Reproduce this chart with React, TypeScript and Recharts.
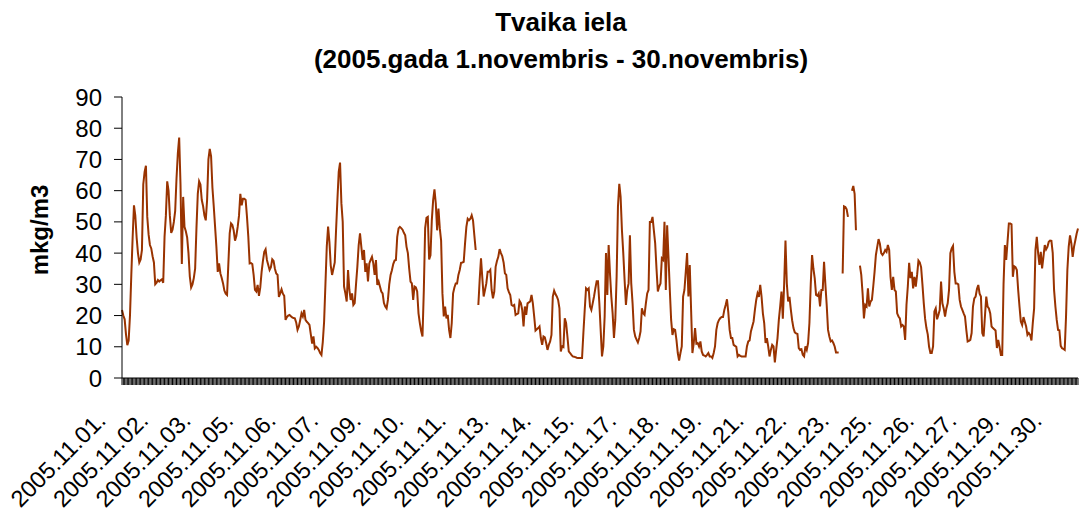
import React from 'react';
import { LineChart, Line, XAxis, YAxis } from 'recharts';

// hourly concentrations, one row of 24 values per day (null = no measurement)
const days = [
  '2005.11.01.', '2005.11.02.', '2005.11.03.', '2005.11.04.', '2005.11.05.', '2005.11.06.',
  '2005.11.07.', '2005.11.08.', '2005.11.09.', '2005.11.10.', '2005.11.11.', '2005.11.12.',
  '2005.11.13.', '2005.11.14.', '2005.11.15.', '2005.11.16.', '2005.11.17.', '2005.11.18.',
  '2005.11.19.', '2005.11.20.', '2005.11.21.', '2005.11.22.', '2005.11.23.', '2005.11.24.',
  '2005.11.25.', '2005.11.26.', '2005.11.27.', '2005.11.28.', '2005.11.29.', '2005.11.30.',
];

const hourly: (number | null)[][] = [
  [21.8, 20, 18.8, 14, 10.5, 12, 20, 33, 45, 55.3, 52, 45, 40, 37, 38, 41, 62, 66, 68, 51.6, 46, 42.6, 41.5, 39],
  [37, 30, 30.5, 31.4, 30.9, 31.3, 31.6, 30.5, 45.2, 52, 63, 60, 52, 46.5, 47.5, 50, 53.5, 64, 72, 77, 62, 36.5, 58, 48.4],
  [47, 45, 40, 32.5, 29, 30, 32, 35, 48, 59, 63, 62, 57, 55, 52, 50.5, 57, 70, 73.4, 71, 61, 55, 48.5, 42],
  [34, 36.7, 33.5, 32, 30.3, 28, 27, 26.6, 36.7, 46.3, 49.5, 49, 47.3, 44, 45.5, 48.4, 52, 59, 55.3, 57.4, 57.4, 57, 51.6, 45.2],
  [36.7, 36.8, 36.5, 33, 28.2, 27.7, 29.8, 26.3, 29, 34, 37.5, 40.4, 41.2, 37.8, 36.2, 34.6, 35.5, 38, 37.5, 35, 33.5, 33, 26, 27.1],
  [28.4, 27, 26.3, 18.6, 19.5, 20, 20.2, 19.8, 19.4, 19.2, 19.1, 17.8, 15.4, 16.5, 18.5, 20.7, 19.7, 21.8, 18.6, 18, 17.6, 17, 14, 11],
  [13.3, 9.5, 10, 9.6, 9, 8, 7.4, 11.5, 18, 30, 42, 48.5, 43.5, 36, 33, 35, 37, 47.5, 57, 66, 69, 56, 50, 29.3],
  [27.1, 24.5, 34.6, 28.2, 25, 27.1, 23.4, 24, 30, 35.6, 42.5, 46.3, 42, 37.8, 41, 34, 36.7, 30.9, 36.7, 37.8, 38.8, 36.7, 33, 37.8],
  [29.8, 30.9, 29.3, 27.7, 27.1, 24, 22.9, 22.3, 25, 30, 33, 34.5, 36.5, 37.6, 37.8, 45.2, 47.9, 48.4, 48, 47.5, 46.5, 45.7, 42, 40],
  [35, 30.9, 30.3, 25, 29.3, 29, 27.7, 20.7, 17.6, 15, 13.3, 28.2, 48, 51.3, 51.6, 38, 39.3, 50.5, 56.9, 60.4, 55.9, 47.3, 54.3, 48],
  [44, 27.1, 19.7, 22.9, 19.1, 20.2, 15.4, 12.8, 17.6, 27.1, 29, 30.3, 30.3, 33, 34.6, 36.9, 37, 37.2, 43.1, 48.4, 51, 50.5, 51, 52.1],
  [50.5, 45.7, 41, null, 23.4, 31.4, 38.3, 32, 26.1, 28.2, 30.3, 34, 34, 34.6, 28.2, 25.5, 27.7, 35.6, 37.5, 38.8, 41.3, 40, 39, 37],
  [33.5, 33, 28.7, 27.5, 26.6, 23.4, 23.1, 23.4, 20.2, 20.5, 20.7, 24.7, 24, 21.8, 16.5, 22.9, 20.2, 23.9, 24.2, 24.5, 26.6, 23.9, 19.7, 15.2],
  [15.6, 16, 16.5, 12.8, 10.6, 13.3, 13, 11.2, 9, 10.6, 11.7, 13.8, 26.1, 28, 26.9, 26.1, 25, 22.3, 8.5, 10.1, 9.9, 19.1, 17.6, 13.3],
  [8.5, 8, 7.4, 6.9, 6.8, 6.7, 6.5, 6.4, 6.4, 6.4, 6.4, 14.4, 21.8, 28.7, 28.2, 28.7, 22.9, 21.8, 23.9, 26.1, 28.7, 31, 31, 24],
  [15.4, 6.9, 10.1, 19.7, 40, 26.6, 42.6, 33.5, 26.1, 20.7, 12.8, 18.6, 32.4, 54.8, 62.2, 58, 47.3, 40, 31.4, 23.4, 28.2, 30.3, 45.7, 30.3],
  [23.9, 15.4, 13.3, 12.3, 11.4, 12.8, 14.9, 22.3, 20.7, 20.2, 23.9, 27.1, 28.2, 50, 50, 51.6, 47.3, 43.1, 35, 27.7, 29.3, 30.3, 38.3, 37.8],
  [50, 28.2, 48.9, 38.8, 28.2, 18.6, 13.8, 15.6, 15.4, 12.2, 8, 5.6, 8, 10.1, 26.1, 28.2, 34, 40, 26.1, 36.2, 22, 8, 11.2, 16],
  [11, 11.2, 10.1, 11.7, 8.5, 7.4, 7.2, 6.9, 7.4, 8, 6.9, 6.9, 6.4, 8, 10.1, 15.4, 17.6, 18.6, 19.2, 19.5, 19.5, 21.8, 23.4, 25.2],
  [21, 15.4, 12.8, 12.8, 10.6, 10.3, 10, 6.9, 7.4, 7.1, 6.9, 6.9, 6.9, 6.9, 10.1, 11.7, 12, 14.9, 16.5, 18.1, 21.8, 25, 27.1, 26],
  [29.8, 26.1, 20.7, 17.6, 11.2, 12.8, 10.1, 6.9, 9, 10.6, 10.1, 5, 9, 12.8, 18.6, 22.9, 27.7, 19, 30, 44, 30.3, 24.5, 26, 22],
  [18.5, 16, 14.6, 14.3, 14.1, 9.6, 9, 9.2, 7.4, 6.9, 10.1, 9, 11.2, 17.6, 30, 39.4, 35, 31.9, 26.6, 26.3, 27.1, 22.9, 28.2, 28.2],
  [37.2, 30, 23.4, 15.4, 13.3, 11.7, 12, 11.2, 10.1, 8.2, 8.2, 8.2, null, null, 33.5, 55, 54.8, 54, 51.6, null, null, 60, 61.5, 59],
  [47.3, null, null, 36, 33, 27, 19.1, 23.4, 22.9, 28.7, 22.9, 24.5, 25, 29.3, 34, 39.4, 42, 44.5, 43, 40, 39.4, 40, 41, 40.4],
  [42.6, 41, 32.4, 28.2, 32.4, 28.2, 27.7, 20.7, 19.7, 19.1, 16.5, 17, 16.5, 12.2, 23.4, 29.3, 36.9, 32, 34, 28.7, 32.4, 29.3, 33, 37.6],
  [37, 35.5, 30, 24, 19, 16, 14, 10, 8, 8, 10.1, 21.3, 22.3, 18.8, 20.2, 21.8, 30.9, 23.9, 22.3, 19.7, 22.3, 23.9, 28.2, 40],
  [41.5, 42.3, 34, 30.3, 30.3, 30, 25, 22.9, 21.8, 20.7, 19.7, 15.4, 11.7, 11.9, 12.2, 14.4, 22.9, 25.5, 26.1, 28.5, 29.8, 27, 26.1, 14.4],
  [13.3, 19.7, 26.1, 22.9, 22.3, 20.7, 16.5, 16, 15.6, 15.2, 9.6, 12.2, 10, 7.4, 7.4, 30, 42.6, 37.8, 43.6, 49.5, 49.5, 49.2, 32.4, 35.8],
  [35.5, 34.6, 28.2, 22.9, 18.1, 17, 19.5, 18, 16.5, 13.8, 14.4, 13.8, 12, 17.6, 22.3, 41, 45.2, 40, 36.2, 40.4, 35.1, 38.8, 42.6, 41.2],
  [42, 43.6, 44, 43.9, 40, 28.2, 22.9, 18.6, 15.4, 15.3, 10.3, 9.5, 9.3, 9, 19.7, 34.6, 42, 45.7, 43.1, 38.8, 42, 44.1, 46.3, 47.9],
];

const yTicks = [0, 10, 20, 30, 40, 50, 60, 70, 80, 90];
const LABEL_STEP = 32; // a date label on every 32nd hour

const FONT = '"Liberation Sans", Arial, sans-serif';
const LINE_COLOR = '#993300';

const rows = days.flatMap((day, d) =>
  hourly[d].map((value, h) => ({ slot: d * 24 + h, day, value })),
);

const HourTick = ({ x, y, payload }: any) => {
  const slot = Number(payload.value);
  const lx = x - 15;
  const ly = y + 44;
  return (
    <g>
      <line x1={x} y1={y} x2={x} y2={y + 7} stroke="#000" strokeWidth={1} />
      {slot % LABEL_STEP === 0 && (
        <text
          x={lx}
          y={ly}
          textAnchor="end"
          transform={`rotate(-45 ${lx} ${ly})`}
          fontSize={23.5}
          fontFamily={FONT}
          fill="#000"
        >
          {rows[slot].day}
        </text>
      )}
    </g>
  );
};

export default function App() {
  return (
    <div
      style={{
        position: 'absolute',
        left: 0,
        top: 0,
        width: 1080,
        height: 511,
        background: '#fff',
        fontFamily: FONT,
      }}
    >
      <LineChart width={1080} height={511} data={rows} margin={{ top: 97, right: 2, bottom: 0, left: 0 }}>
        <XAxis
          dataKey="slot"
          type="category"
          interval={0}
          height={133}
          tickSize={0}
          tickMargin={0}
          tickLine={false}
          axisLine={{ stroke: '#000', strokeWidth: 1 }}
          tick={<HourTick />}
        />
        <YAxis
          width={122}
          domain={[0, 90]}
          ticks={yTicks}
          interval={0}
          tickSize={8}
          tickMargin={12}
          axisLine={{ stroke: '#000', strokeWidth: 1 }}
          tickLine={{ stroke: '#000', strokeWidth: 1 }}
          tick={{ fontSize: 24, fill: '#000', fontFamily: FONT }}
        />
        <Line
          type="linear"
          dataKey="value"
          stroke={LINE_COLOR}
          strokeWidth={2}
          dot={false}
          activeDot={false}
          connectNulls={false}
          isAnimationActive={false}
        />
      </LineChart>
      <svg
        width={1080}
        height={511}
        style={{ position: 'absolute', left: 0, top: 0, pointerEvents: 'none' }}
      >
        <text x={561} y={31} textAnchor="middle" fontSize={26} fontWeight="bold" fontFamily={FONT} fill="#000">
          Tvaika iela
        </text>
        <text x={561} y={68} textAnchor="middle" fontSize={26} fontWeight="bold" fontFamily={FONT} fill="#000">
          (2005.gada 1.novembris - 30.novembris)
        </text>
        <text
          transform="translate(48 230) rotate(-90)"
          textAnchor="middle"
          fontSize={24}
          fontWeight="bold"
          fontFamily={FONT}
          fill="#000"
        >
          mkg/m3
        </text>
      </svg>
    </div>
  );
}
